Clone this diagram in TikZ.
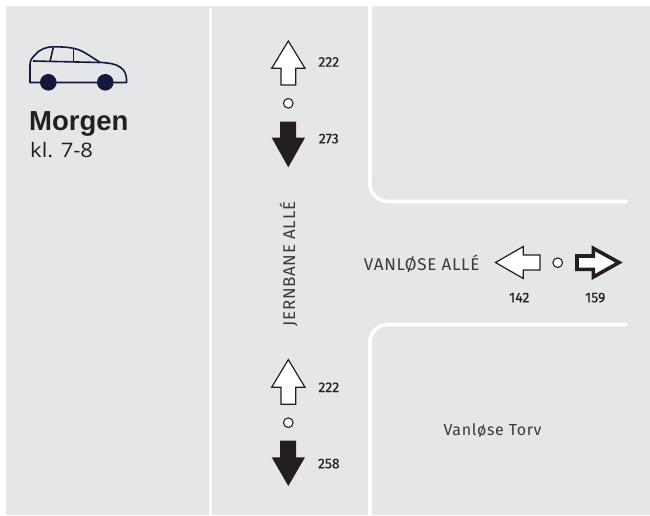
\documentclass[tikz,border=0pt]{standalone}
\usepackage{fontspec}
\setmainfont{Liberation Sans}
\newfontfamily\dinfont[LetterSpace=4]{Fira Sans}
\newfontfamily\numfont[FakeBold=0.3]{Fira Sans}
\newfontfamily\headfont{Liberation Sans}
\newfontfamily\subfont[FakeStretch=1.1]{Open Sans}
\definecolor{bg}{HTML}{E5E6E8}
\definecolor{ink}{HTML}{231F20}
\definecolor{navy}{HTML}{14183A}
\definecolor{txt}{HTML}{3A3A3C}
\tikzset{
  road/.style={draw=white,line width=3.6pt,line cap=round},
  openarrow/.style={draw=ink,fill=white,line width=1.2pt,miter limit=10},
  heavyarrow/.style={draw=ink,fill=white,line width=3.6pt,miter limit=10},
  solidarrow/.style={fill=ink,draw=none},
  sep/.style={draw=ink,fill=white,line width=1.1pt},
  carline/.style={draw=navy,line width=1.6pt,line join=round},
  count/.style={font=\numfont\fontsize{14}{14}\selectfont,text=ink,anchor=base,inner sep=0pt},
  roadname/.style={font=\dinfont\fontsize{17}{17}\selectfont,text=txt,anchor=base,inner sep=0pt},
}
\begin{document}
\begin{tikzpicture}[x=1pt,y=-1pt]
\useasboundingbox (0,0) rectangle (650,515);
\fill[bg] (6,6) rectangle (650,515);
% roads
\draw[road,line cap=butt] (210.6,8) -- (210.6,515);
\draw[road,line cap=butt] (369.7,6) -- (369.7,183);
\draw[road] (369.7,183) arc[start angle=180,end angle=90,radius=18.5] -- (626,201.5);
\draw[road,line cap=butt] (369.7,515) -- (369.7,343);
\draw[road] (369.7,343) arc[start angle=180,end angle=270,radius=18.5] -- (626,324.5);
% car
\draw[carline] (30,82.5) -- (30,65) .. controls (30,60) and (32,58) .. (35,55)
  .. controls (40,49) and (46,46.8) .. (54,46.8)
  .. controls (64,46.8) and (72,47.5) .. (78,49.5)
  .. controls (85,52) and (92,57.5) .. (100,62.3)
  .. controls (108,63) and (115,63.5) .. (120,67)
  .. controls (125,70.5) and (126.6,74) .. (126.6,82.5) -- cycle;
\draw[carline] (33,61) -- (100,62.5);
\draw[carline] (53.3,47.5) -- (50,61.5);
\draw[carline] (73.3,48.5) -- (73.3,62);
\fill[navy] (48.3,82.3) circle (8.3) (105.3,82.3) circle (8.3);
% title
\node[font=\headfont\bfseries\fontsize{27.5}{27.5}\selectfont,text=ink,anchor=base west,inner sep=0pt] (title) at (29,130.7) {Morgen};
\node[font=\subfont\fontsize{20}{20}\selectfont,text=ink,anchor=base west,inner sep=0pt] (time) at (30,157.3) {kl. 7-8};
% north group
\draw[openarrow] (288.3,41) -- (305,68.3) -- (295.7,68.3) -- (295.7,85) -- (281,85) -- (281,68.3) -- (271.7,68.3) -- cycle;
\draw[sep] (288.3,103.3) circle (4.8);
\fill[solidarrow] (280,121.7) -- (296,121.7) -- (296,137.7) -- (305,137.7) -- (288.3,167.3) -- (271.7,137.7) -- (280,137.7) -- cycle;
\node[count] (n1) at (328.8,66.7) {222};
\node[count] (n2) at (328.8,143.3) {273};
% south group
\draw[openarrow] (288.3,359.6) -- (305,387.3) -- (295.7,387.3) -- (295.7,404.3) -- (281,404.3) -- (281,387.3) -- (271.7,387.3) -- cycle;
\draw[sep] (288.3,422.7) circle (4.8);
\fill[solidarrow] (280,440.7) -- (296,440.7) -- (296,457.3) -- (305,457.3) -- (288.3,486) -- (271.7,457.3) -- (280,457.3) -- cycle;
\node[count] (n3) at (328.8,392) {222};
\node[count] (n4) at (328.8,468.3) {258};
% east group
\draw[openarrow] (495.5,262.5) -- (523.3,246.5) -- (523.3,255) -- (540,255) -- (540,270) -- (523.3,270) -- (523.3,278.5) -- cycle;
\draw[sep] (557.7,262.7) circle (4.8);
\draw[heavyarrow] (619,262.5) -- (593.3,248.3) -- (593.3,256) -- (577,256) -- (577,269.3) -- (593.3,269.3) -- (593.3,277) -- cycle;
\node[count] (n5) at (519.3,302.3) {142};
\node[count] (n6) at (595.3,302.3) {159};
% names
\node[roadname] (vanlose) at (421.7,270.7) {VANLØSE ALLÉ};
\node[roadname,rotate=90] (jernbane) at (295,264) {JERNBANE ALLÉ};
\node[roadname,font=\dinfont\fontsize{16}{16}\selectfont] (torv) at (492.5,435) {Vanløse Torv};
\end{tikzpicture}
\end{document}
